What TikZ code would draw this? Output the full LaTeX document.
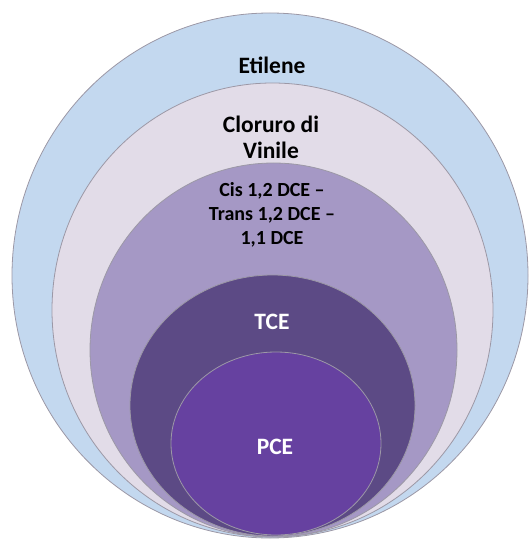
\documentclass[tikz,border=0pt]{standalone}
\usepackage{fontspec}
\setmainfont{Carlito}
\usetikzlibrary{shapes.geometric}
\definecolor{cEti}{HTML}{C3D8EF}
\definecolor{cClo}{HTML}{E2DCE8}
\definecolor{cCis}{HTML}{A598C5}
\definecolor{cTce}{HTML}{5C4A85}
\definecolor{cPce}{HTML}{6641A0}
\definecolor{cEdge}{HTML}{9C98A6}
\tikzset{
  ring/.style={ellipse, draw=cEdge, line width=0.8pt, inner sep=0pt},
  lbl/.style={font=\fontsize{20}{24}\selectfont\bfseries, align=center, inner sep=0pt},
  big/.style={font=\fontsize{23.5}{25.5}\selectfont\bfseries},
}
\begin{document}
\begin{tikzpicture}[x=1pt, y=-1pt]
\useasboundingbox (0,0) rectangle (531,540);
\node[ring, fill=cEti, minimum width=516pt, minimum height=525pt] (eti) at (270,275.5) {};
\node[ring, fill=cClo, minimum width=441pt, minimum height=454pt] (clo) at (272.5,310) {};
\node[ring, fill=cCis, minimum width=367pt, minimum height=374pt] (cis) at (273.5,350) {};
\node[ring, fill=cTce, minimum width=285pt, minimum height=261pt] (tce) at (272.5,405.5) {};
\node[ring, fill=cPce, minimum width=210pt, minimum height=183pt] (pce) at (276,443.5) {};
\node[lbl, big] (teti) at (272,65) {Etilene};
\node[lbl, big] (tclo) at (271,137.5) {Cloruro di\\Vinile};
\node[lbl] (tcis) at (272,215) {Cis 1,2 DCE –\\Trans 1,2 DCE –\\1,1 DCE};
\node[lbl, big, text=white] (ttce) at (272,322) {TCE};
\node[lbl, big, text=white] (tpce) at (275,447) {PCE};
\end{tikzpicture}
\end{document}
